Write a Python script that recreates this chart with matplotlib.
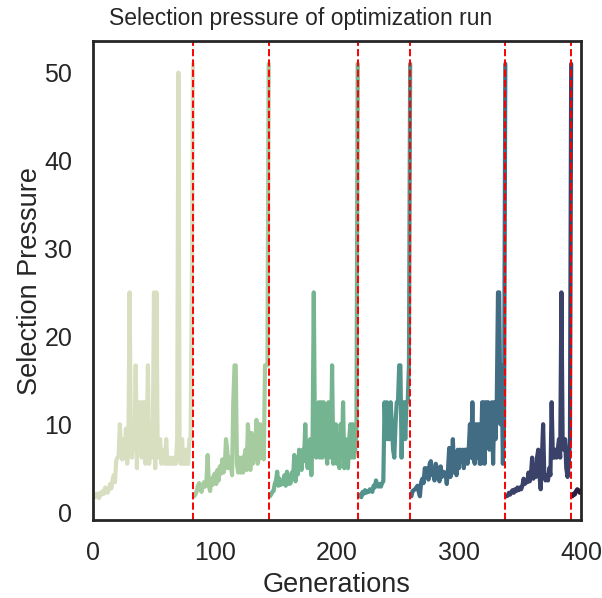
import numpy as np
import matplotlib
matplotlib.use('Agg')
import matplotlib.pyplot as plt
import seaborn as sns

# Selection pressure for each restart segment of the optimization run
seg_starts = [0, 83, 145, 218, 261, 339, 393]

seg1 = [1.8, 2.0, 1.7, 2.1, 1.9, 1.6, 2.2, 2.0, 2.4, 2.1,
        2.8, 2.3, 2.2, 2.6, 3.2, 2.7, 3.6, 4.2, 3.4, 5.8,
        6.2, 6.3, 10.0, 7.1, 6.0, 8.3, 6.2, 9.5, 5.5, 7.1,
        25.0, 8.3, 6.2, 10.0, 7.1, 16.7, 5.0, 12.5, 8.3, 12.5,
        6.2, 12.5, 12.5, 5.5, 7.1, 16.7, 5.5, 10.0, 6.2, 8.3,
        25.0, 5.0, 25.0, 7.1, 6.2, 8.3, 5.5, 7.1, 6.2, 5.5,
        8.3, 5.5, 6.2, 5.5, 6.2, 5.5, 5.5, 6.2, 5.5, 8.3,
        50.0, 6.2, 5.5, 8.3, 5.5, 5.5, 7.1, 5.5, 5.5, 8.3,
        8.3, 25.0, 51.0]
seg2 = [1.8, 2.0, 2.4, 3.0, 3.3, 2.6, 2.3, 3.0, 3.4, 2.9,
        3.6, 6.5, 3.0, 2.4, 3.8, 3.1, 4.2, 4.4, 3.2, 4.8,
        3.6, 5.2, 4.4, 6.0, 4.5, 5.0, 8.3, 7.1, 5.0, 6.2,
        5.5, 4.2, 12.5, 16.7, 16.7, 5.5, 4.5, 6.2, 4.5, 6.2,
        4.5, 6.2, 7.1, 4.8, 10.0, 7.1, 4.8, 9.0, 5.5, 6.2,
        7.1, 10.5, 5.5, 6.2, 10.0, 6.2, 9.5, 6.0, 16.7, 16.7,
        16.7, 51.0]
seg3 = [1.8, 2.0, 2.3, 2.4, 3.2, 3.6, 4.6, 3.0, 3.8, 3.1,
        3.3, 3.2, 4.2, 3.0, 4.6, 3.8, 3.2, 3.3, 4.5, 3.8,
        6.5, 3.5, 4.8, 4.3, 7.1, 5.8, 4.8, 7.1, 5.8, 10.0,
        6.2, 5.0, 7.1, 8.3, 4.2, 8.3, 25.0, 7.1, 6.2, 10.0,
        12.5, 6.2, 12.5, 6.2, 12.5, 10.0, 7.1, 5.5, 12.5, 8.3,
        6.2, 16.7, 5.5, 7.1, 10.0, 5.5, 8.3, 5.0, 10.0, 6.2,
        12.5, 5.0, 8.3, 6.2, 5.0, 8.3, 10.0, 6.2, 10.0, 6.2,
        7.1, 10.0, 51.0]
seg4 = [1.8, 2.0, 1.7, 2.3, 2.1, 2.5, 2.2, 2.4, 2.3, 2.6,
        2.4, 2.3, 3.0, 2.8, 3.6, 3.0, 2.9, 3.2, 2.9, 3.3,
        3.5, 12.5, 8.3, 12.5, 8.3, 8.3, 12.5, 10.0, 7.1, 6.2,
        10.0, 12.5, 12.5, 16.7, 16.7, 6.2, 12.5, 12.5, 8.3, 12.5,
        12.5, 16.7, 51.0]
seg5 = [1.8, 2.4, 2.5, 2.6, 2.8, 3.0, 2.3, 1.8, 3.4, 3.8,
        3.3, 5.0, 4.5, 5.0, 3.7, 5.5, 5.8, 4.2, 4.6, 3.6,
        5.5, 5.0, 4.5, 3.5, 5.2, 4.0, 4.6, 4.3, 4.5, 3.2,
        4.8, 7.3, 4.0, 5.0, 8.3, 4.5, 5.5, 4.2, 7.1, 5.0,
        7.1, 6.2, 7.1, 5.0, 7.1, 7.1, 5.5, 7.1, 10.0, 6.2,
        12.5, 6.0, 5.5, 10.0, 6.2, 10.0, 5.5, 5.5, 12.5, 12.5,
        5.5, 12.5, 12.5, 12.5, 7.1, 10.0, 12.5, 5.5, 12.5, 8.3,
        12.5, 25.0, 25.0, 10.0, 16.7, 5.5, 10.0, 51.0]
seg6 = [1.8, 1.9, 2.2, 2.0, 2.3, 2.5, 2.2, 2.6, 2.4, 2.8,
        2.5, 2.8, 2.6, 3.0, 3.8, 3.2, 3.5, 3.4, 4.5, 3.5,
        4.2, 6.2, 3.8, 5.0, 4.0, 6.2, 7.1, 4.2, 2.6, 6.2,
        10.0, 4.0, 3.6, 4.2, 3.6, 5.0, 4.2, 12.5, 6.2, 6.2,
        7.1, 6.2, 7.1, 8.3, 6.2, 25.0, 8.3, 7.1, 8.3, 5.0,
        4.0, 5.5, 8.3, 51.0]
seg7 = [1.8, 2.1, 2.0, 2.4, 2.6, 2.5, 2.2, 2.4]

segments = [seg1, seg2, seg3, seg4, seg5, seg6, seg7]

sns.set_theme(style='white', context='talk')
plt.rcParams['font.family'] = ['Liberation Sans', 'DejaVu Sans']

colors = sns.cubehelix_palette(len(segments), start=.5, rot=-.75)

fig = plt.figure(figsize=(6.02, 5.98), dpi=100)
ax = fig.add_axes([0.1545, 0.1304, 0.8105, 0.801])

for start, vals, col in zip(seg_starts, segments, colors):
    x = start + np.arange(len(vals))
    ax.plot(x, vals, color=col, linewidth=3)

# Restart markers at the end of each segment (except the last)
for start, vals in zip(seg_starts[:-1], segments[:-1]):
    ax.axvline(start + len(vals) - 1, color='red', linestyle='--', linewidth=1.4)

ax.set_xlim(0, 400)
ax.set_ylim(-0.9, 53.6)
ax.set_xticks([0, 100, 200, 300, 400])
ax.set_yticks([0, 10, 20, 30, 40, 50])
ax.tick_params(labelsize=18, length=0, pad=15)
for s in ax.spines.values():
    s.set_linewidth(2)
    s.set_color('#262626')

fig.suptitle('Selection pressure of optimization run', fontsize=16.5,
             x=0.5, y=1 - 19 / 598, va='center')
ax.set_xlabel('Generations', fontsize=19.5, labelpad=5)
ax.set_ylabel('Selection Pressure', fontsize=19.5, labelpad=1)

fig.savefig('out.png', dpi=100)
